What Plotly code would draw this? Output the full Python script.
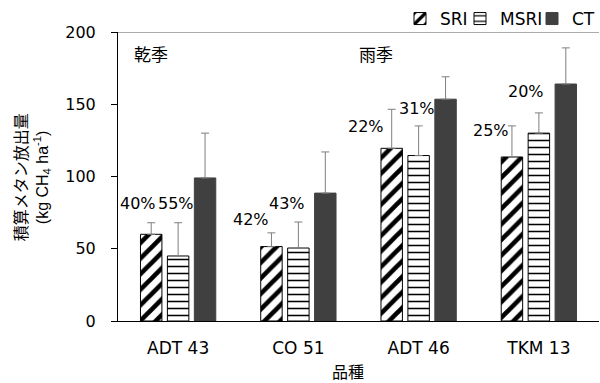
import plotly.graph_objects as go

# Cultivars and treatments
cultivars = ["ADT 43", "CO 51", "ADT 46", "TKM 13"]
treatments = ["SRI", "MSRI", "CT"]

# Cumulative methane emission (kg CH4 ha-1) and upper error (top of error bar)
sri = [60, 51.5, 119.5, 113.5]
msri = [45, 50.5, 114.5, 130]
ct = [99, 88.5, 153.5, 164]
sri_err_top = [68, 61, 146.5, 135]
msri_err_top = [68, 68.5, 135, 144]
ct_err_top = [130, 117, 169, 189]

# Reduction vs CT labels
sri_pct = ["40%", "42%", "22%", "25%"]
msri_pct = ["55%", "43%", "31%", "20%"]
sri_pct_y = [81.5, 70, 134.5, 132]
msri_pct_y = [81.5, 81.5, 147, 158.5]
sri_pct_dx = [-40, -47, -52.5, -48]
msri_pct_dx = [-2.5, -11, -1.5, -12.5]

seasons = ["乾季", "雨季"]

LATIN = "DejaVu Sans"
CJK = "Noto Sans CJK JP"

W, H = 600, 383
L, R, T, B = 118, 0, 32, 62
PW = W - L - R
PH = H - T - B


def px_to_paper_x(px):
    return (px - L) / PW


def px_to_paper_y(py):
    return (H - B - py) / PH


fig = go.Figure()

series = [
    ("SRI", sri, sri_err_top, dict(color="white", line=dict(color="black", width=1),
                                   pattern=dict(shape="/", fgcolor="black", bgcolor="white",
                                                fgopacity=1, size=11, solidity=0.42)), "legend"),
    ("MSRI", msri, msri_err_top, dict(color="white", line=dict(color="black", width=1),
                                      pattern=dict(shape="-", fgcolor="black", bgcolor="white",
                                                   fgopacity=1, size=7, solidity=0.22)), "legend2"),
    ("CT", ct, ct_err_top, dict(color="#404040", line=dict(color="#404040", width=1)), "legend3"),
]

for name, vals, tops, marker, leg in series:
    fig.add_trace(go.Bar(
        name=name,
        x=cultivars,
        y=vals,
        marker=marker,
        legend=leg,
        showlegend=True,
        error_y=dict(type="data", symmetric=False,
                     array=[t - v for t, v in zip(tops, vals)],
                     arrayminus=[0] * len(vals),
                     color="#7f7f7f", thickness=1, width=4),
    ))

annotations = []
for i, c in enumerate(cultivars):
    annotations.append(dict(x=c, y=sri_pct_y[i], xref="x", yref="y", text=sri_pct[i],
                            showarrow=False, xshift=sri_pct_dx[i],
                            font=dict(family=LATIN, size=16, color="black")))
    annotations.append(dict(x=c, y=msri_pct_y[i], xref="x", yref="y", text=msri_pct[i],
                            showarrow=False, xshift=msri_pct_dx[i],
                            font=dict(family=LATIN, size=16, color="black")))

# Season labels
for s, px in zip(seasons, [151, 377]):
    annotations.append(dict(x=px_to_paper_x(px), y=px_to_paper_y(53), xref="paper", yref="paper",
                            text=s, showarrow=False, xanchor="center", yanchor="middle",
                            font=dict(family=CJK, size=17, color="black")))

# Y axis title (two lines)
annotations.append(dict(x=px_to_paper_x(20), y=px_to_paper_y(177), xref="paper", yref="paper",
                        text="積算メタン放出量", textangle=-90, showarrow=False,
                        xanchor="center", yanchor="middle",
                        font=dict(family=CJK, size=16, color="black")))
annotations.append(dict(x=px_to_paper_x(42), y=px_to_paper_y(177), xref="paper", yref="paper",
                        text="(kg CH<sub>4</sub> ha<sup>-1</sup>)", textangle=-90, showarrow=False,
                        xanchor="center", yanchor="middle",
                        font=dict(family="Liberation Sans", size=16, color="black")))
# X axis title
annotations.append(dict(x=px_to_paper_x(348), y=px_to_paper_y(371), xref="paper", yref="paper",
                        text="品種", showarrow=False, xanchor="center", yanchor="middle",
                        font=dict(family=CJK, size=16, color="black")))

legend_common = dict(orientation="h", xanchor="left", yanchor="middle",
                     font=dict(family=LATIN, size=17, color="black"),
                     bgcolor="rgba(0,0,0,0)", borderwidth=0, itemwidth=30)

fig.update_layout(
    width=W, height=H,
    margin=dict(l=L, r=R, t=T, b=B, pad=0),
    paper_bgcolor="white", plot_bgcolor="white",
    barmode="group", bargap=0.328, bargroupgap=0.204,
    legend=dict(x=px_to_paper_x(400), y=px_to_paper_y(19), **legend_common),
    legend2=dict(x=px_to_paper_x(460), y=px_to_paper_y(19), **legend_common),
    legend3=dict(x=px_to_paper_x(533), y=px_to_paper_y(19), **legend_common),
    annotations=annotations,
    shapes=[dict(type="line", xref="paper", yref="y", x0=0, x1=1, y0=200, y1=200,
                 line=dict(color="#595959", width=1))],
    xaxis=dict(showline=True, linecolor="black", linewidth=1, ticks="",
               tickfont=dict(family=LATIN, size=17, color="black"),
               ticklabelstandoff=12, showgrid=False, zeroline=False),
    yaxis=dict(range=[0, 200], dtick=50, showline=True, linecolor="black", linewidth=1,
               ticks="outside", ticklen=6, tickcolor="black",
               tickfont=dict(family=LATIN, size=16, color="black"),
               ticklabelstandoff=12, showgrid=False, zeroline=False),
)

fig.write_html("out.html")
